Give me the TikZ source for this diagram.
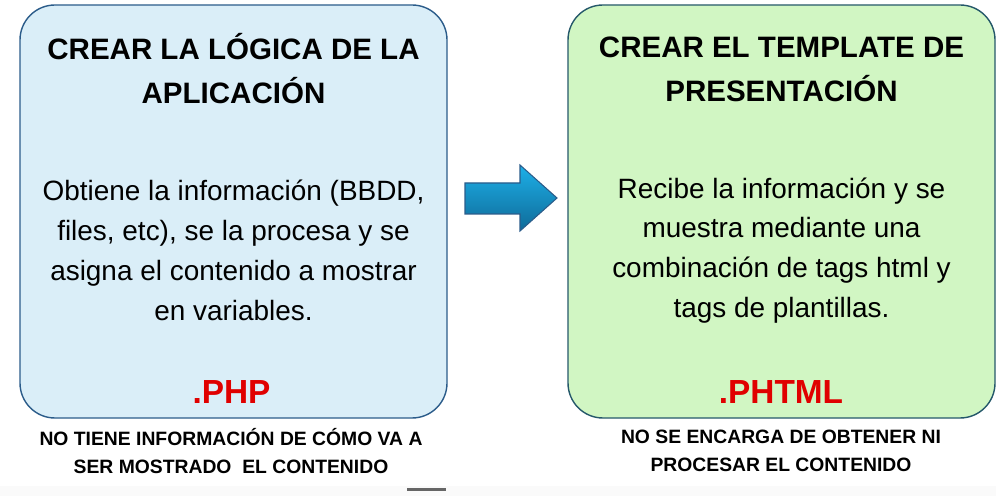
\documentclass[tikz,border=0pt]{standalone}
\usepackage{fontspec}
\setmainfont{Liberation Sans}
\definecolor{logicfill}{HTML}{DAEEF8}
\definecolor{logicline}{HTML}{2B5C8A}
\definecolor{viewfill}{HTML}{D1F6C3}
\definecolor{viewline}{HTML}{25586A}
\definecolor{extred}{HTML}{E00000}
\definecolor{arrowtop}{HTML}{1DB0E8}
\definecolor{arrowbot}{HTML}{0F6A98}
\tikzset{
  card/.style={line width=0.8pt, rounded corners=0.7cm},
  title/.style={align=center, font=\fontsize{16.8}{25}\selectfont\bfseries},
  body/.style={align=center, font=\fontsize{15.9}{22.7}\selectfont},
  ext/.style={font=\fontsize{19}{22}\selectfont\bfseries, text=extred},
  note/.style={align=center, font=\fontsize{11}{16}\selectfont\bfseries}
}
\begin{document}
\begin{tikzpicture}[x=0.02cm,y=-0.02cm]
\useasboundingbox (0,0) rectangle (996,496);
\fill[gray!4] (0,486) rectangle (996,496);
\draw[gray!80!black, line width=1.2pt] (407,489.5) -- (446,489.5);
% left card: application logic
\draw[card, draw=logicline, fill=logicfill] (20,5) rectangle (447,418);
\node[title] (logictitle) at (233.5,69) {CREAR LA LÓGICA DE LA\\APLICACIÓN};
\node[body] (logicbody) at (233.5,250.5) {Obtiene la información (BBDD,\\files, etc), se la procesa y se\\asigna el contenido a mostrar\\en variables.};
\node[ext] (php) at (231.5,392) {.PHP};
\node[note] (logicnote) at (231,451) {NO TIENE INFORMACIÓN DE CÓMO VA A\\SER MOSTRADO\ \ EL CONTENIDO};
% arrow between the cards
\shade[top color=arrowtop, bottom color=arrowbot, draw=logicline, line width=0.6pt]
  (465,183) -- (520,183) -- (520,165) -- (557,198) -- (520,231) -- (520,214) -- (465,214) -- cycle;
% right card: presentation template
\draw[card, draw=viewline, fill=viewfill] (568,5) rectangle (995,418);
\node[title] (viewtitle) at (781.5,69) {CREAR EL TEMPLATE DE\\PRESENTACIÓN};
\node[body] (viewbody) at (781.5,250.5) {Recibe la información y se\\muestra mediante una\\combinación de tags html y\\tags de plantillas.};
\node[ext] (phtml) at (781,392) {.PHTML};
\node[note] (viewnote) at (781,451) {NO SE ENCARGA DE OBTENER NI\\PROCESAR EL CONTENIDO};
\end{tikzpicture}
\end{document}
